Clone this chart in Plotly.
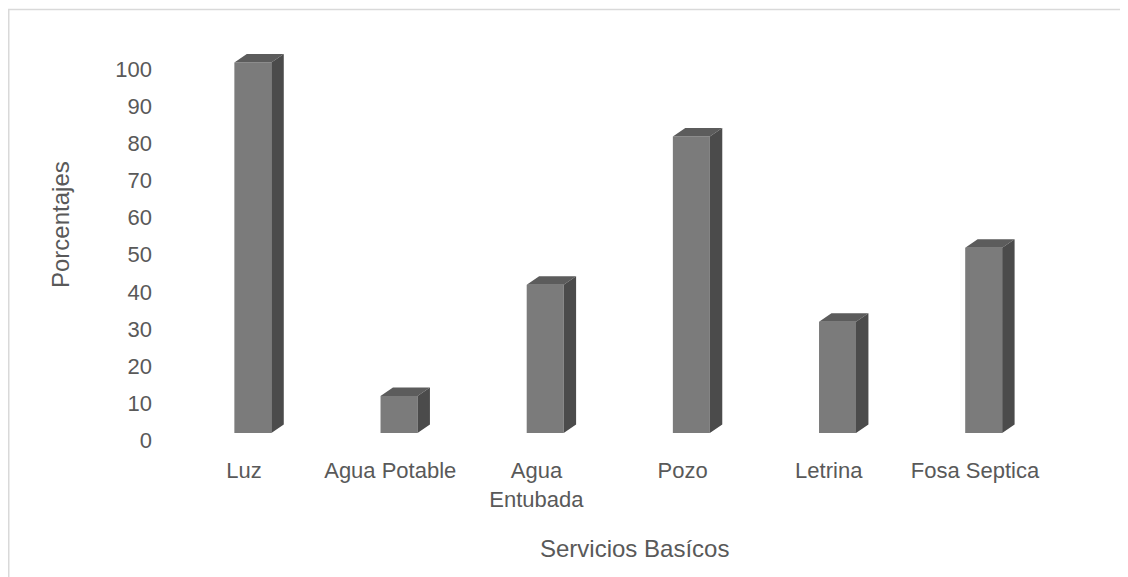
import plotly.graph_objects as go

# ---- data ----
categories = ["Luz", "Agua Potable", "Agua<br>Entubada", "Pozo", "Letrina", "Fosa Septica"]
values = [100, 10, 40, 80, 30, 50]
y_ticks = list(range(0, 101, 10))
x_title = "Servicios Basícos"
y_title = "Porcentajes"

# ---- style / geometry ----
PAGE_OFF = 8           # default body margin of the html page
W, H = 1128 - PAGE_OFF, 577 - PAGE_OFF
ML, MR, MT, MB = 163, 80, 36, 144
YMAX = 105
BAR_W = 0.253          # front face width (category units)
BAR_SHIFT = 0.06       # front face shift right of category center
DEPTH_X = 0.085        # 3D depth, category units
DEPTH_Y = 2.3          # 3D depth, value units
FRONT = "#7b7b7b"
TOP = "#5c5c5c"
SIDE = "#4b4b4b"
TXT = "#595959"
FONT = "Liberation Sans"

xs = list(range(len(categories)))

fig = go.Figure()
fig.add_trace(go.Bar(
    x=xs, y=values, width=BAR_W, offset=-BAR_W / 2 + BAR_SHIFT,
    marker=dict(color=FRONT, line=dict(width=0)), hoverinfo="skip"))

top_x, top_y, side_x, side_y = [], [], [], []
for i, v in zip(xs, values):
    xl = i - BAR_W / 2 + BAR_SHIFT
    xr = xl + BAR_W
    top_x += [xl, xr, xr + DEPTH_X, xl + DEPTH_X, xl, None]
    top_y += [v, v, v + DEPTH_Y, v + DEPTH_Y, v, None]
    side_x += [xr, xr + DEPTH_X, xr + DEPTH_X, xr, xr, None]
    side_y += [0, DEPTH_Y, v + DEPTH_Y, v, 0, None]

fig.add_trace(go.Scatter(x=top_x, y=top_y, fill="toself", mode="lines",
                         line=dict(width=0, color=TOP), fillcolor=TOP, hoverinfo="skip"))
fig.add_trace(go.Scatter(x=side_x, y=side_y, fill="toself", mode="lines",
                         line=dict(width=0, color=SIDE), fillcolor=SIDE, hoverinfo="skip"))

pw = W - ML - MR
ph = H - MT - MB

def px2paper_x(px):
    return (px - PAGE_OFF - ML) / pw

def py2paper_y(py):
    return (H - MB - (py - PAGE_OFF)) / ph

fig.update_layout(
    width=W, height=H,
    margin=dict(l=ML, r=MR, t=MT, b=MB),
    paper_bgcolor="white", plot_bgcolor="white",
    showlegend=False,
    font=dict(family=FONT, size=22, color=TXT),
    xaxis=dict(range=[-0.5, len(categories) - 0.5], tickvals=xs, ticktext=categories,
               showgrid=False, zeroline=False, showline=False, ticks="",
               ticklabelstandoff=22, tickfont=dict(size=22, color=TXT)),
    yaxis=dict(range=[0, YMAX], tickvals=y_ticks, showgrid=False, zeroline=False,
               showline=False, ticks="", ticklabelstandoff=18, ticklabelshift=7,
               tickfont=dict(size=22, color=TXT)),
    annotations=[
        dict(text=x_title, xref="paper", yref="paper", x=px2paper_x(634), y=py2paper_y(548),
             showarrow=False, font=dict(size=24, color=TXT), xanchor="center", yanchor="middle"),
        dict(text=y_title, xref="paper", yref="paper", x=px2paper_x(60), y=py2paper_y(225),
             showarrow=False, textangle=-90, font=dict(size=24, color=TXT),
             xanchor="center", yanchor="middle"),
    ],
    shapes=[
        dict(type="rect", xref="paper", yref="paper",
             x0=px2paper_x(8.75), x1=px2paper_x(1140), y0=py2paper_y(590), y1=py2paper_y(9.5),
             line=dict(color="#d9d9d9", width=1.5), fillcolor="rgba(0,0,0,0)", layer="below"),
    ],
)

fig.write_html("out.html")
